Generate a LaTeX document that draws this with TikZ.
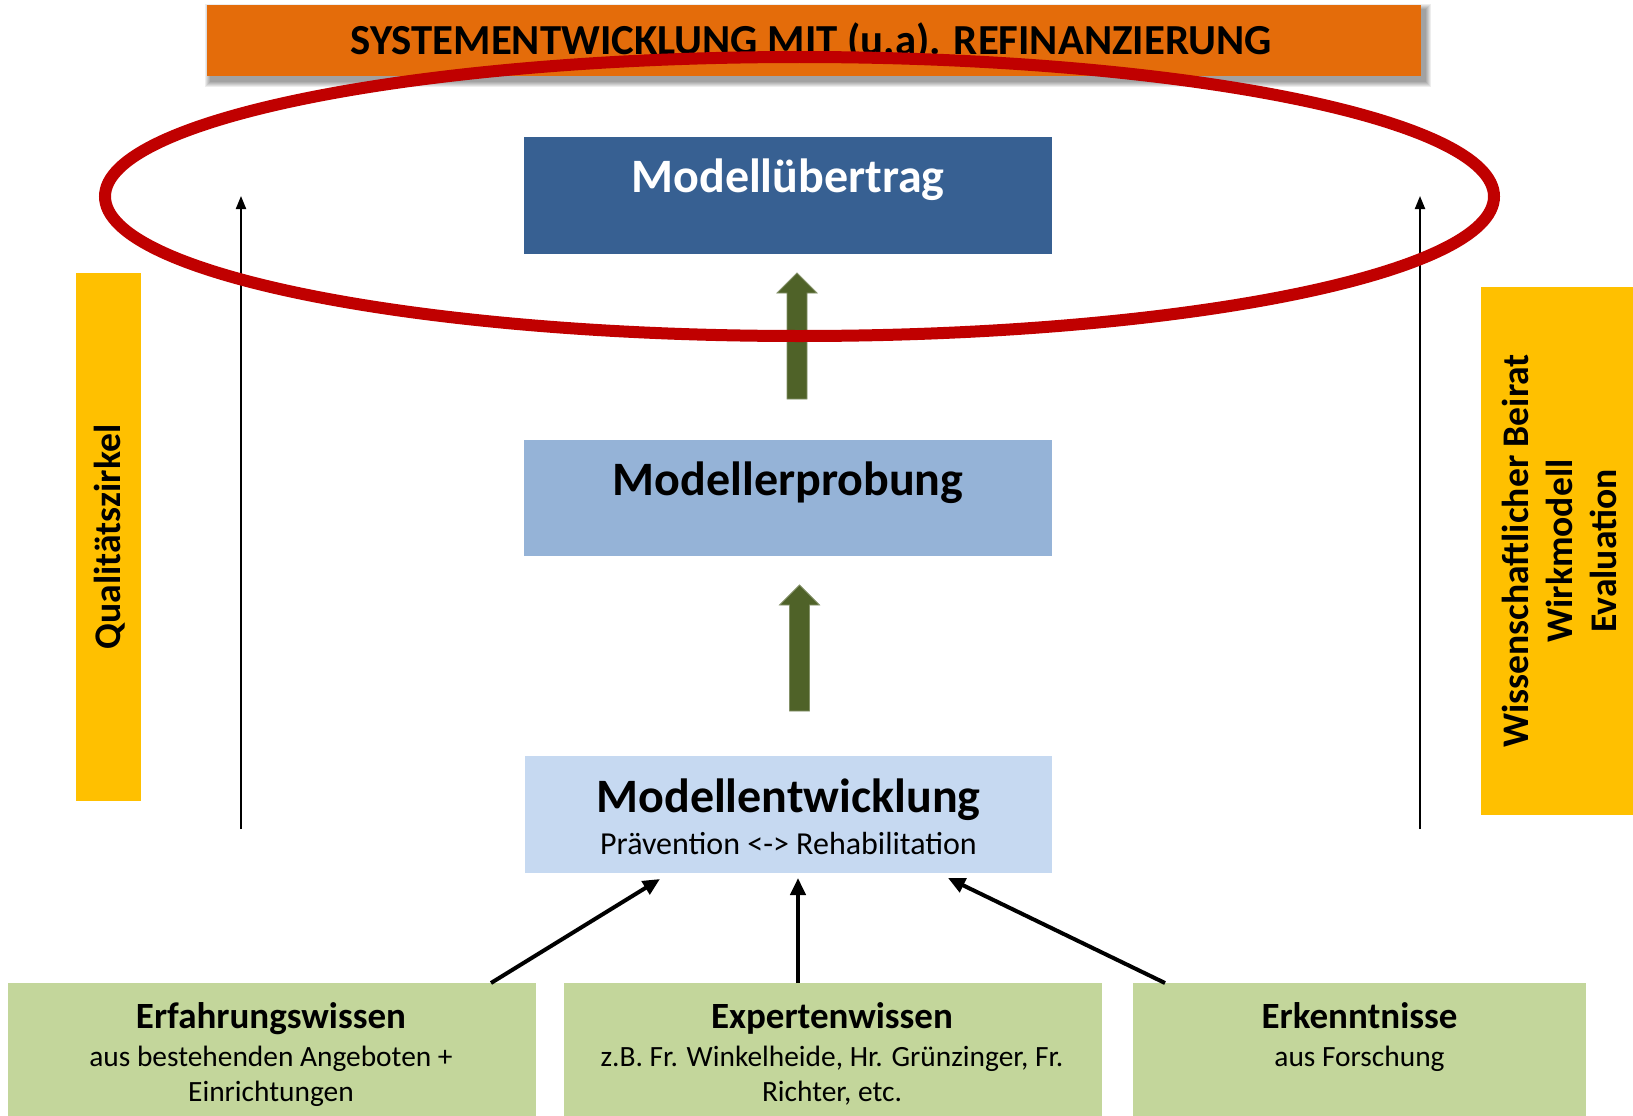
\documentclass[tikz,border=0pt]{standalone}
\usepackage{fontspec}
\setmainfont{Carlito}
\usetikzlibrary{arrows.meta,calc}

\definecolor{orangebar}{HTML}{E46C0A}
\definecolor{ringred}{HTML}{C00000}
\definecolor{darkblue}{HTML}{376092}
\definecolor{midblue}{HTML}{95B3D7}
\definecolor{lightblue}{HTML}{C6D9F1}
\definecolor{boxgreen}{HTML}{C3D69B}
\definecolor{arrowgreen}{HTML}{4F6228}
\definecolor{sideyellow}{HTML}{FFC000}

\tikzset{
  x=1pt, y=-1pt,
  panel/.style={fill=#1, draw=none, inner sep=0pt, outer sep=0pt, anchor=north west},
  stagebox/.style={panel=#1, minimum width=528pt, minimum height=117pt},
  stagetext/.style={font=\bfseries\fontsize{48}{56}\selectfont, anchor=base, inner sep=0pt},
  subtext/.style={font=\fontsize{32}{38}\selectfont, anchor=base, inner sep=0pt},
  srchead/.style={font=\bfseries\fontsize{37}{44}\selectfont, anchor=base, inner sep=0pt},
  srcline/.style={font=\fontsize{29.4}{35}\selectfont, anchor=base, inner sep=0pt},
  sidetext/.style={font=\bfseries\fontsize{37.6}{44}\selectfont, rotate=90, align=center, inner sep=0pt},
  feed/.style={line width=4pt, -{Triangle[length=17pt,width=15pt]}},
  track/.style={line width=2pt, -{Triangle[length=13pt,width=10pt]}},
  blockarrow/.style={fill=arrowgreen, draw=arrowgreen!70!white, line width=0.8pt},
}

\begin{document}
\begin{tikzpicture}
\useasboundingbox (0,0) rectangle (1633,1116);
\fill[white] (0,0) rectangle (1633,1116);

% top banner with soft shadow
\node[panel=orangebar, minimum width=1214pt, minimum height=71pt] (topbar) at (207,5) {};
\foreach \e in {6,5,4,3,2,1}
  \fill[black, opacity=0.07] ($(topbar.north west)+(4-\e,5-\e)$) rectangle ($(topbar.south east)+(4+\e,5+\e)$);
\fill[orangebar] (topbar.north west) rectangle (topbar.south east);
\node[font=\bfseries\fontsize{42.8}{50}\selectfont, anchor=base, inner sep=0pt] (toptext)
  at ($(topbar.north)+(-3,50)$) {SYSTEMENTWICKLUNG MIT (u.a). REFINANZIERUNG};

% model stages
\node[stagebox=darkblue] (transfer) at (524,137) {};
\node[stagebox=midblue, minimum height=116pt] (test) at (524,440) {};
\node[stagebox=lightblue, minimum width=527pt] (dev) at (525,756) {};

\node[stagetext, text=white] (transfer-t) at ($(transfer.north)+(0,55)$) {Modellübertrag};
\node[stagetext] (test-t) at ($(test.north)+(0,55)$) {Modellerprobung};
\node[stagetext] (dev-t) at ($(dev.north)+(0,56)$) {Modellentwicklung};
\node[subtext] (dev-s) at ($(dev.north)+(0,98)$) {Prävention <-> Rehabilitation};

% knowledge sources
\node[panel=boxgreen, minimum width=528pt, minimum height=133pt] (src1) at (8,983) {};
\node[panel=boxgreen, minimum width=538pt, minimum height=133pt] (src2) at (564,983) {};
\node[panel=boxgreen, minimum width=453pt, minimum height=133pt] (src3) at (1133,983) {};

\node[srchead] (src1-h) at ($(src1.north)+(-1,45)$) {Erfahrungswissen};
\node[srcline] (src1-a) at ($(src1.north)+(-1,83)$) {aus bestehenden Angeboten +};
\node[srcline] (src1-b) at ($(src1.north)+(-1,118)$) {Einrichtungen};
\node[srchead] (src2-h) at ($(src2.north)+(-1,45)$) {Expertenwissen};
\node[srcline] (src2-a) at ($(src2.north)+(-1,83)$) {z.B. Fr. Winkelheide, Hr. Grünzinger, Fr.};
\node[srcline] (src2-b) at ($(src2.north)+(-1,118)$) {Richter, etc.};
\node[srchead] (src3-h) at ($(src3.north)+(0,45)$) {Erkenntnisse};
\node[srcline] (src3-a) at ($(src3.north)+(0,83)$) {aus Forschung};

% green block arrows between the stages
\coordinate (g1tail) at ($(test.north)+(9,-41)$);
\coordinate (g1tip) at ($(transfer.south)+(9,19)$);
\coordinate (g2tail) at ($(dev.north)+(11,-45)$);
\coordinate (g2tip) at ($(test.south)+(11,29)$);
\foreach \t/\h in {g1tail/g1tip, g2tail/g2tip}
  \filldraw[blockarrow] let \p1=(\t), \p2=(\h) in
    (\x1-10pt,\y1) -- (\x1-10pt,\y2-20pt) -- (\x1-20pt,\y2-20pt) -- (\x1,\y2)
    -- (\x1+20pt,\y2-20pt) -- (\x1+10pt,\y2-20pt) -- (\x1+10pt,\y1) -- cycle;

% long side arrows
\coordinate (ltail) at (241,829);
\coordinate (lhead) at (241,196);
\coordinate (rtail) at (1420,829);
\coordinate (rhead) at (1420,196);
\draw[track] (ltail) -- (lhead);
\draw[track] (rtail) -- (rhead);

% red ring around the transfer stage
\draw[ringred, line width=12pt] (799.5,196.5) ellipse [x radius=694.5, y radius=139.5];

% inputs into model development
\draw[feed] ([xshift=-45pt]src1.north east) -- ([xshift=135pt,yshift=-6pt]dev.south west);
\draw[feed] ([xshift=-35pt]src2.north) -- ([xshift=9.5pt,yshift=-5pt]dev.south);
\draw[feed] ([xshift=32pt]src3.north west) -- ([xshift=-104pt,yshift=-5pt]dev.south east);

% side panels
\node[panel=sideyellow, minimum width=65pt, minimum height=528pt] (qz) at (76,273) {};
\node[sidetext] (qz-t) at ($(qz.center)+(1,0)$) {Qualitätszirkel};
\node[panel=sideyellow, minimum width=152pt, minimum height=528pt] (wb) at (1481,287) {};
\node[sidetext] (wb-t) at ($(wb.center)+(2,0)$) {Wissenschaftlicher Beirat\\Wirkmodell\\Evaluation};
\end{tikzpicture}
\end{document}
